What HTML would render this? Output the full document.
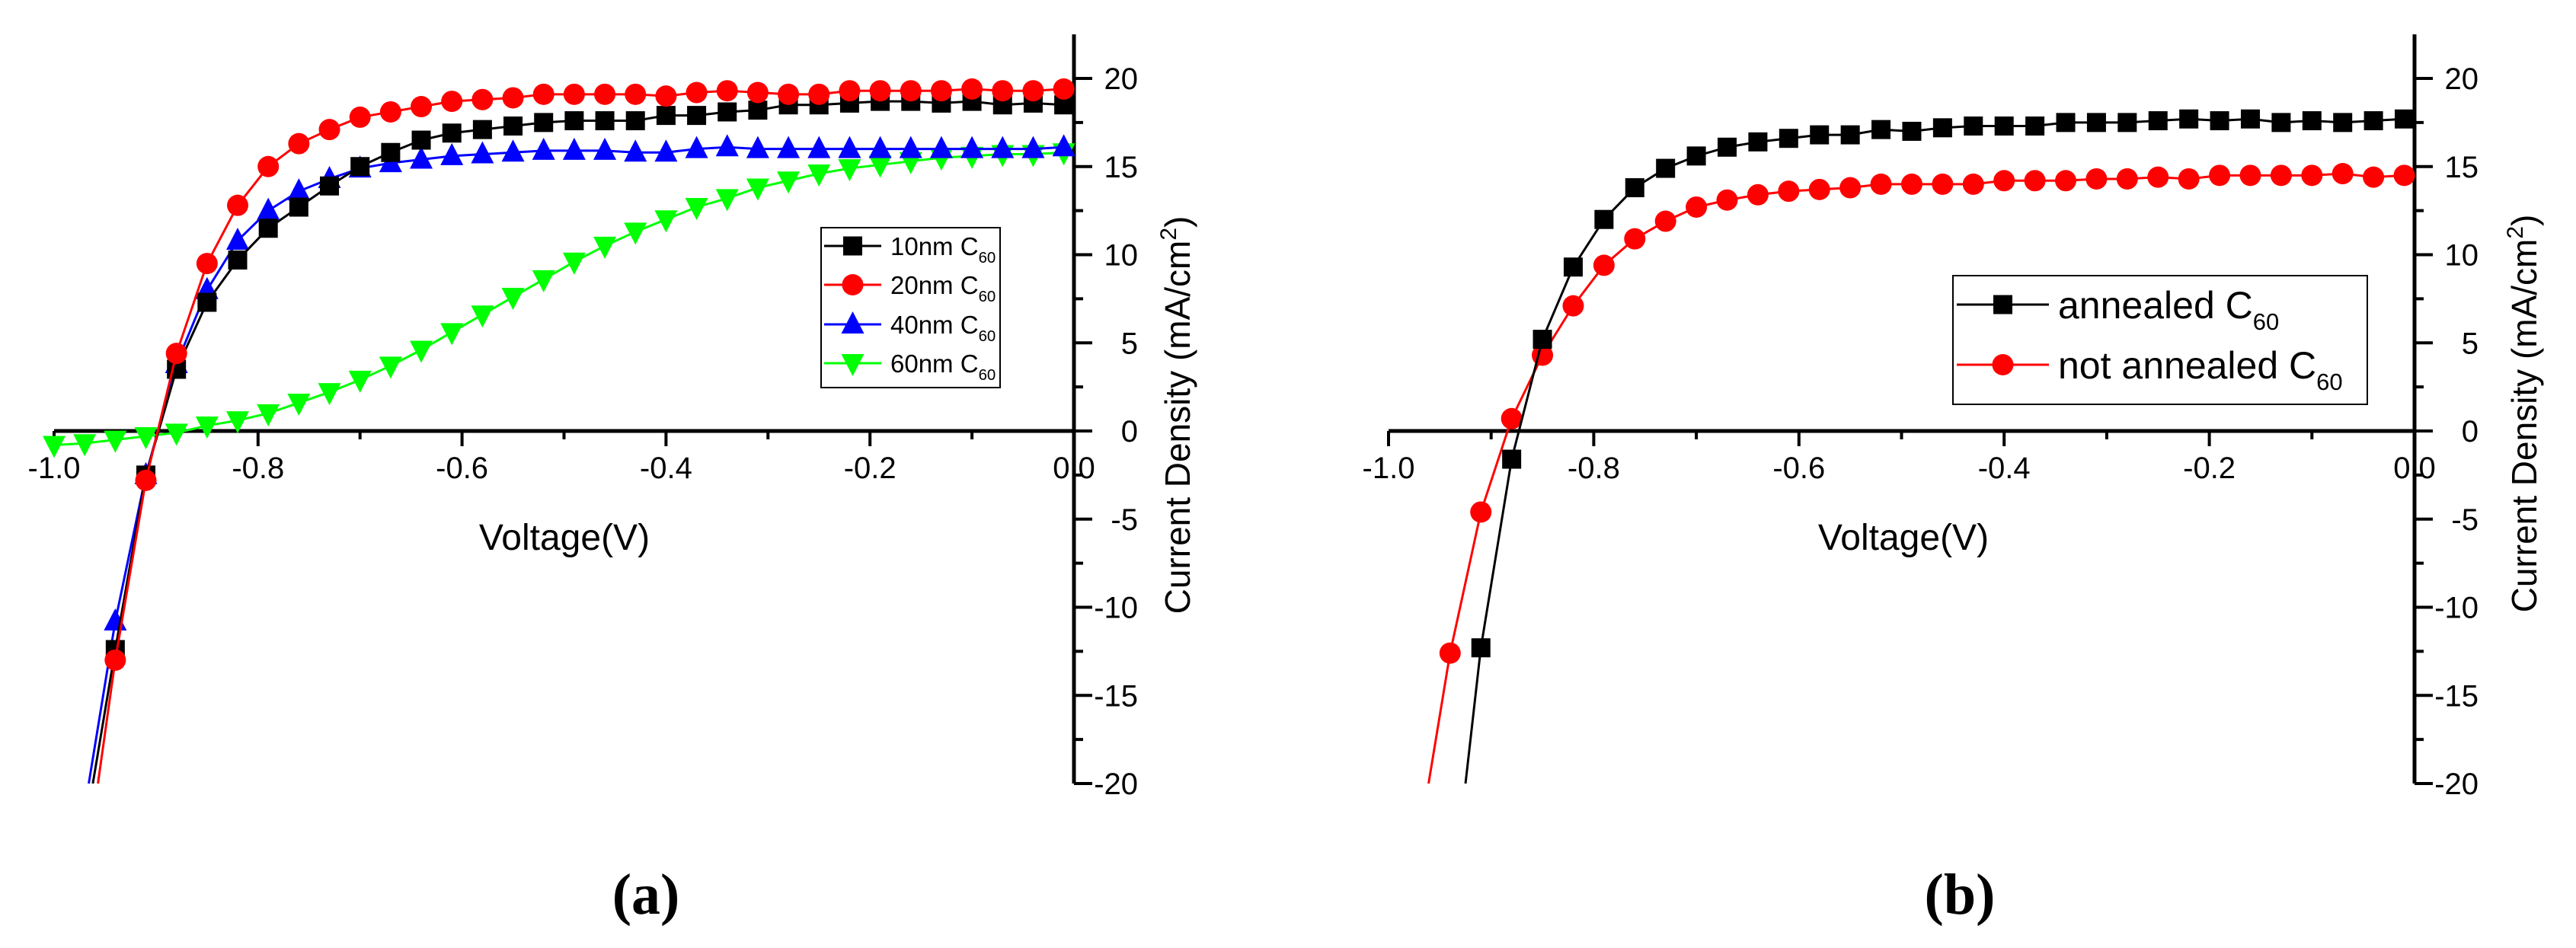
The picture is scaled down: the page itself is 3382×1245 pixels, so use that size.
<!DOCTYPE html>
<html><head><meta charset="utf-8"><style>
html,body{margin:0;padding:0;background:#fff;}
svg{display:block;font-family:"Liberation Sans",sans-serif;}
</style></head><body>
<svg id="fig" width="3382" height="1245" viewBox="0 0 3382 1245" xmlns="http://www.w3.org/2000/svg">
<rect width="3382" height="1245" fill="#fff"/>
</svg>
<script>
// ---- data ----
const xTicks = [-1.0, -0.8, -0.6, -0.4, -0.2, 0.0];
const xTickLabels = ["-1.0", "-0.8", "-0.6", "-0.4", "-0.2", "0.0"];
const yTicks = [20, 15, 10, 5, 0, -5, -10, -15, -20];
const yTickLabels = ["20", "15", "10", "5", "0", "-5", "-10", "-15", "-20"];
const voltA = [-0.94,-0.91,-0.88,-0.85,-0.82,-0.79,-0.76,-0.73,-0.70,-0.67,-0.64,-0.61,-0.58,-0.55,-0.52,-0.49,-0.46,-0.43,-0.40,-0.37,-0.34,-0.31,-0.28,-0.25,-0.22,-0.19,-0.16,-0.13,-0.10,-0.07,-0.04,-0.01];
const j10 = [-12.4,-2.5,3.5,7.3,9.7,11.5,12.7,13.9,15.0,15.8,16.5,16.9,17.1,17.3,17.5,17.6,17.6,17.6,17.9,17.9,18.1,18.2,18.5,18.5,18.6,18.7,18.7,18.6,18.7,18.5,18.6,18.5];
const j20 = [-13.0,-2.8,4.4,9.5,12.8,15.0,16.3,17.1,17.8,18.1,18.4,18.7,18.8,18.9,19.1,19.1,19.1,19.1,19.0,19.2,19.3,19.2,19.1,19.1,19.3,19.3,19.3,19.3,19.4,19.3,19.3,19.4];
const j40 = [-10.8,-2.5,3.8,8.0,10.8,12.5,13.6,14.3,14.9,15.2,15.4,15.6,15.7,15.8,15.9,15.9,15.9,15.8,15.8,16.0,16.1,16.0,16.0,16.0,16.0,16.0,16.0,16.0,16.0,16.0,16.0,16.1];
const voltA60 = [-1.0,-0.97,-0.94,-0.91,-0.88,-0.85,-0.82,-0.79,-0.76,-0.73,-0.70,-0.67,-0.64,-0.61,-0.58,-0.55,-0.52,-0.49,-0.46,-0.43,-0.40,-0.37,-0.34,-0.31,-0.28,-0.25,-0.22,-0.19,-0.16,-0.13,-0.10,-0.07,-0.04,-0.01];
const j60 = [-0.8,-0.7,-0.5,-0.3,-0.1,0.3,0.6,1.0,1.6,2.2,2.9,3.7,4.6,5.6,6.6,7.6,8.6,9.6,10.5,11.3,12.0,12.7,13.2,13.8,14.2,14.6,14.9,15.1,15.3,15.5,15.6,15.7,15.7,15.8];
const tailA = {j10:-0.962, j20:-0.957, j40:-0.966};
const voltB = [-0.91,-0.88,-0.85,-0.82,-0.79,-0.76,-0.73,-0.70,-0.67,-0.64,-0.61,-0.58,-0.55,-0.52,-0.49,-0.46,-0.43,-0.40,-0.37,-0.34,-0.31,-0.28,-0.25,-0.22,-0.19,-0.16,-0.13,-0.10,-0.07,-0.04,-0.01];
const jAnn = [-12.3,-1.6,5.2,9.3,12.0,13.8,14.9,15.6,16.1,16.4,16.6,16.8,16.8,17.1,17.0,17.2,17.3,17.3,17.3,17.5,17.5,17.5,17.6,17.7,17.6,17.7,17.5,17.6,17.5,17.6,17.7];
const voltBr = [-0.94,-0.91,-0.88,-0.85,-0.82,-0.79,-0.76,-0.73,-0.70,-0.67,-0.64,-0.61,-0.58,-0.55,-0.52,-0.49,-0.46,-0.43,-0.40,-0.37,-0.34,-0.31,-0.28,-0.25,-0.22,-0.19,-0.16,-0.13,-0.10,-0.07,-0.04,-0.01];
const jNot = [-12.6,-4.6,0.7,4.3,7.1,9.4,10.9,11.9,12.7,13.1,13.4,13.6,13.7,13.8,14.0,14.0,14.0,14.0,14.2,14.2,14.2,14.3,14.3,14.4,14.3,14.5,14.5,14.5,14.5,14.6,14.4,14.5];
const tailB = {ann:-0.925, not:-0.961};

const NS = "http://www.w3.org/2000/svg";
const svg = document.getElementById("fig");
function el(tag, attrs, parent){
  const e = document.createElementNS(NS, tag);
  for (const k in attrs) e.setAttribute(k, attrs[k]);
  (parent||svg).appendChild(e);
  return e;
}
const Y0 = 566, YS = 23.15;
function yPix(v){ return Y0 - v*YS; }
function makeX(x0, span){ return v => x0 + (v+1)*span; }

function drawAxes(xf, id){
  const g = el("g", {});
  
  
  const xr = xf(0);
  el("line", {x1:xf(-1), y1:Y0, x2:xr, y2:Y0, stroke:"#000","stroke-width":5}, g);
  for (let v=-1.0; v<=0.0001; v+=0.1){
    const major = Math.abs(Math.round(v*10)%2)===0;
    el("line",{x1:xf(v),y1:Y0,x2:xf(v),y2:Y0+(major?20:11),stroke:"#000","stroke-width":4},g);
  }
  xTicks.forEach((v,i)=>{
    const t = el("text",{x:xf(v),y:628,"font-size":40,"text-anchor":"middle",fill:"#000"},g);
    t.textContent = xTickLabels[i];
    
    
  });
  el("line",{x1:xr,y1:yPix(22.5),x2:xr,y2:yPix(-20),stroke:"#000","stroke-width":5},g);
  for (let v=-20; v<=20; v+=2.5){
    const major = Math.abs(v%5)<0.01;
    el("line",{x1:xr,y1:yPix(v),x2:xr+(major?24:12),y2:yPix(v),stroke:"#000","stroke-width":4},g);
  }
  yTicks.forEach((v,i)=>{
    const t = el("text",{x:xr+84,y:yPix(v)+14,"font-size":40,"text-anchor":"end",fill:"#000"},g);
    t.textContent = yTickLabels[i];
    
    
  });
}
function marker(shape, x, y, color, parent){
  if (shape==="square") return el("rect",{x:x-12.5,y:y-12.5,width:25,height:25,fill:color},parent);
  if (shape==="circle") return el("circle",{cx:x,cy:y,r:14,fill:color},parent);
  if (shape==="up") return el("polygon",{points:`${x},${y-17} ${x-15},${y+12} ${x+15},${y+12}`,fill:color},parent);
  if (shape==="down") return el("polygon",{points:`${x},${y+17} ${x-15},${y-12} ${x+15},${y-12}`,fill:color},parent);
}
function drawSeries(xf, xs, ys, tail, color, shape, name){
  const g = el("g",{});
  
  
  let pts = [];
  if (tail!==null) pts.push([xf(tail), yPix(-20)]);
  xs.forEach((v,i)=>pts.push([xf(v), yPix(ys[i])]));
  el("polyline",{points:pts.map(p=>p.join(",")).join(" "),fill:"none",stroke:color,"stroke-width":3},g);
  xs.forEach((v,i)=>{
    const m = marker(shape, xf(v), yPix(ys[i]), color, g);
    
    
  });
}
function label(x,y,txt,size,extra,name){
  const t = el("text",Object.assign({x:x,y:y,"font-size":size,fill:"#000"},extra||{}));
  t.textContent = txt;
  
  
  return t;
}
function yTitle(cx, cy, name){
  const t = el("text",{x:0,y:0,"font-size":46,"text-anchor":"middle",fill:"#000",transform:`translate(${cx},${cy}) rotate(-90)`});
  
  
  t.appendChild(document.createTextNode("Current Density (mA/cm"));
  const s = el("tspan",{"font-size":30,dy:-18},t); s.textContent="2";
  const s2 = el("tspan",{dy:18},t); s2.textContent=")";
}
function legendEntry(x, y, lineLen, shape, color, txt, fs, name){
  const g = el("g",{});
  
  
  el("line",{x1:x,y1:y,x2:x+lineLen,y2:y,stroke:color,"stroke-width":3},g);
  marker(shape, x+lineLen/2, y, color, g);
  const t = el("text",{x:x+lineLen+12,y:y+fs*0.36,"font-size":fs,fill:"#000"},g);
  t.appendChild(document.createTextNode(txt));
  const s = el("tspan",{"font-size":fs*0.62,dy:fs*0.3},t); s.textContent="60";
}

// ---- Panel A ----
const xa = makeX(71, 1339);
drawAxes(xa, "panel-a");
drawSeries(xa, voltA60, j60, null, "#00ff00", "down", "series-60nm");
drawSeries(xa, voltA, j40, tailA.j40, "#0000ff", "up", "series-40nm");
drawSeries(xa, voltA, j10, tailA.j10, "#000000", "square", "series-10nm");
drawSeries(xa, voltA, j20, tailA.j20, "#ff0000", "circle", "series-20nm");
label(741, 722, "Voltage(V)", 48, {"text-anchor":"middle"}, "x-axis-title-a");
yTitle(1562, 545, "y-axis-title-a");
const lgA = el("rect",{x:1078,y:299,width:235,height:210,fill:"#fff",stroke:"#000","stroke-width":2});
 
legendEntry(1082, 323, 75, "square", "#000", "10nm C", 33, "legend-entry-10nm");
legendEntry(1082, 374, 75, "circle", "#ff0000", "20nm C", 33, "legend-entry-20nm");
legendEntry(1082, 426, 75, "up", "#0000ff", "40nm C", 33, "legend-entry-40nm");
legendEntry(1082, 477, 75, "down", "#00ff00", "60nm C", 33, "legend-entry-60nm");
label(848, 1200, "(a)", 76, {"text-anchor":"middle","font-family":"Liberation Serif, serif","font-weight":"bold"}, "panel-label-a");

// ---- Panel B ----
const xb = makeX(1823, 1347);
drawAxes(xb, "panel-b");
drawSeries(xb, voltBr, jNot, tailB.not, "#ff0000", "circle", "series-not-annealed");
drawSeries(xb, voltB, jAnn, tailB.ann, "#000000", "square", "series-annealed");
label(2499, 722, "Voltage(V)", 48, {"text-anchor":"middle"}, "x-axis-title-b");
yTitle(3330, 543, "y-axis-title-b");
const lgB = el("rect",{x:2564,y:362,width:544,height:169,fill:"#fff",stroke:"#000","stroke-width":2});
 
legendEntry(2569, 400, 121, "square", "#000", "annealed C", 50, "legend-entry-annealed");
legendEntry(2569, 479, 121, "circle", "#ff0000", "not annealed C", 50, "legend-entry-not-annealed");
label(2573, 1200, "(b)", 76, {"text-anchor":"middle","font-family":"Liberation Serif, serif","font-weight":"bold"}, "panel-label-b");
</script>
</body></html>
